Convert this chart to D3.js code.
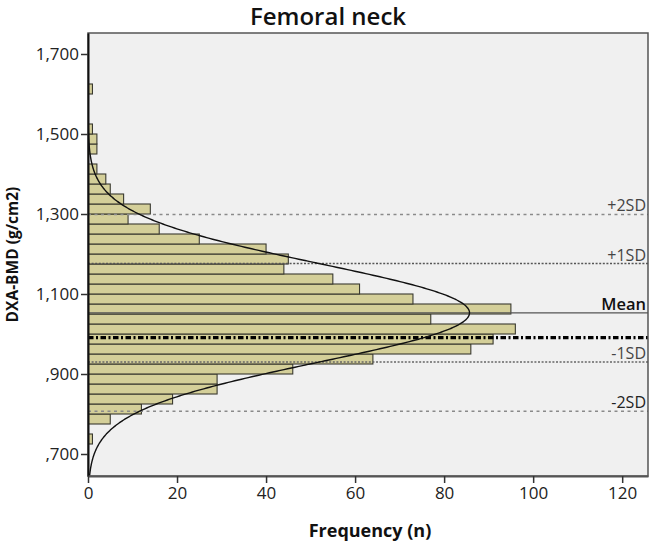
<!DOCTYPE html>
<html>
<head>
<meta charset="utf-8">
<script src="https://cdn.jsdelivr.net/npm/d3@7"></script>
<style>
  html, body { margin: 0; padding: 0; background: #ffffff; }
  svg { display: block; font-family: 'Open Sans', 'Noto Sans', sans-serif; }
</style>
</head>
<body>
<svg id="chart" width="652" height="546"></svg>
<script>
////////// Data //////////
const binWidth = 0.025;
const binLow = [0.725, 0.750, 0.775, 0.800, 0.825, 0.850, 0.875, 0.900, 0.925, 0.950,
                0.975, 1.000, 1.025, 1.050, 1.075, 1.100, 1.125, 1.150, 1.175, 1.200,
                1.225, 1.250, 1.275, 1.300, 1.325, 1.350, 1.375, 1.400, 1.425, 1.450,
                1.475, 1.500, 1.525, 1.550, 1.575, 1.600];
const counts = [1, 0, 5, 12, 19, 29, 29, 46, 64, 86,
                91, 96, 77, 95, 73, 61, 55, 44, 45, 40,
                25, 16, 9, 14, 8, 5, 4, 2, 0, 2,
                2, 1, 0, 0, 0, 1];

const fitMean = 1.053;
const fitSd = 0.123;

const refLabels = ['+2SD', '+1SD', 'Mean', '-1SD', '-2SD'];
const refValues = [1.299, 1.176, 1.053, 0.930, 0.807];
const cutoffValue = 0.991;

const yTickValues = [0.7, 0.9, 1.1, 1.3, 1.5, 1.7];
const yTickLabels = [',700', ',900', '1,100', '1,300', '1,500', '1,700'];
const xTickValues = [0, 20, 40, 60, 80, 100, 120];

const titleText = 'Femoral neck';
const xTitle = 'Frequency (n)';
const yTitle = 'DXA-BMD (g/cm2)';

////////// Layout //////////
const plotLeft = 88, plotRight = 648, plotTop = 33, plotBottom = 476;
const barFill = '#d4cf99';
const barStroke = '#3a3a30';
const plotBg = '#f0f0f0';

const svg = d3.select('#chart');

const x = d3.scaleLinear().domain([0, 125.8]).range([plotLeft, plotRight]);
const y = d3.scaleLinear().domain([0.645, 1.7525]).range([plotBottom, plotTop]);

// plot background
svg.append('rect')
  .attr('x', plotLeft).attr('y', plotTop)
  .attr('width', plotRight - plotLeft).attr('height', plotBottom - plotTop)
  .attr('fill', plotBg);

svg.append('clipPath').attr('id', 'plotClip')
  .append('rect')
  .attr('x', plotLeft).attr('y', plotTop)
  .attr('width', plotRight - plotLeft).attr('height', plotBottom - plotTop);

const plot = svg.append('g').attr('clip-path', 'url(#plotClip)');

// bars
const bins = binLow.map((lo, i) => ({ lo: lo, n: counts[i] })).filter(d => d.n > 0);
plot.selectAll('.bar')
  .data(bins)
  .enter().append('rect')
    .attr('class', 'bar')
    .attr('x', x(0))
    .attr('y', d => y(d.lo + binWidth))
    .attr('width', d => x(d.n) - x(0))
    .attr('height', d => y(d.lo) - y(d.lo + binWidth))
    .attr('fill', barFill)
    .attr('stroke', barStroke)
    .attr('stroke-width', 1.1);

// reference lines
const refDash = ['3,3.5', '2,1.6', null, '2,1.6', '3,3.5'];
const refColor = ['#8a8a8a', '#555555', '#555555', '#666666', '#8a8a8a'];
plot.selectAll('.refLine')
  .data(refValues)
  .enter().append('line')
    .attr('class', 'refLine')
    .attr('x1', plotLeft).attr('x2', plotRight)
    .attr('y1', d => y(d)).attr('y2', d => y(d))
    .attr('stroke', (d, i) => refColor[i])
    .attr('stroke-width', (d, i) => i === 2 ? 1.2 : 1.5)
    .attr('stroke-dasharray', (d, i) => refDash[i]);

// cutoff dash-dot line
plot.append('line')
  .attr('x1', plotLeft).attr('x2', plotRight)
  .attr('y1', y(cutoffValue)).attr('y2', y(cutoffValue))
  .attr('stroke', '#000')
  .attr('stroke-width', 3.2)
  .attr('stroke-dasharray', '5.5,2.5,2,2.5');

// fitted normal curve
const total = d3.sum(counts);
const curveY = d3.range(0.645, 1.76, 0.002);
const normal = v => total * binWidth / (fitSd * Math.sqrt(2 * Math.PI)) * Math.exp(-0.5 * Math.pow((v - fitMean) / fitSd, 2));
plot.append('path')
  .datum(curveY)
  .attr('fill', 'none')
  .attr('stroke', '#111')
  .attr('stroke-width', 1.4)
  .attr('d', d3.line().x(v => x(normal(v))).y(v => y(v)).curve(d3.curveBasis));

// reference labels
svg.selectAll('.refLabel')
  .data(refValues)
  .enter().append('text')
    .attr('class', 'refLabel')
    .attr('x', plotRight - 2)
    .attr('y', d => y(d) - 3)
    .attr('text-anchor', 'end')
    .style('font-size', (d, i) => i === 2 ? '16.5px' : '16px')
    .style('font-weight', (d, i) => i === 2 ? 600 : 400)
    .attr('fill', (d, i) => i === 2 ? '#111' : (i === 4 ? '#222' : '#444'))
    .text((d, i) => refLabels[i]);

// frame
svg.append('rect')
  .attr('x', plotLeft).attr('y', plotTop)
  .attr('width', plotRight - plotLeft).attr('height', plotBottom - plotTop)
  .attr('fill', 'none')
  .attr('stroke', '#555')
  .attr('stroke-width', 1.5);

// axes
const yAxis = d3.axisLeft(y)
  .tickValues(yTickValues)
  .tickFormat((d, i) => yTickLabels[i])
  .tickSize(7).tickSizeOuter(0).tickPadding(2);
const yAxisG = svg.append('g')
  .attr('transform', `translate(${plotLeft}, 0)`)
  .call(yAxis);
yAxisG.select('.domain').attr('stroke', '#111').attr('stroke-width', 2);
yAxisG.selectAll('.tick line').attr('stroke', '#333').attr('stroke-width', 1.5);
yAxisG.selectAll('.tick text').style('font-size', '17px').style('font-family', "'Open Sans', sans-serif").attr('fill', '#222');

const xAxis = d3.axisBottom(x)
  .tickValues(xTickValues)
  .tickSize(7).tickSizeOuter(0).tickPadding(4);
const xAxisG = svg.append('g')
  .attr('transform', `translate(0, ${plotBottom})`)
  .call(xAxis);
xAxisG.select('.domain').attr('stroke', '#555').attr('stroke-width', 2);
xAxisG.selectAll('.tick line').attr('stroke', '#333').attr('stroke-width', 1.5);
xAxisG.selectAll('.tick text').style('font-size', '17px').style('font-family', "'Open Sans', sans-serif").attr('fill', '#222');

// titles
svg.append('text')
  .attr('x', 328)
  .attr('y', 25)
  .attr('text-anchor', 'middle')
  .style('font-size', '24px')
  .style('font-weight', 600)
  .attr('fill', '#111')
  .text(titleText);

svg.append('text')
  .attr('x', 370)
  .attr('y', 537)
  .attr('text-anchor', 'middle')
  .style('font-size', '18px')
  .style('font-weight', 'bold')
  .attr('fill', '#111')
  .text(xTitle);

svg.append('text')
  .attr('transform', `translate(18, ${(plotTop + plotBottom) / 2}) rotate(-90)`)
  .attr('text-anchor', 'middle')
  .style('font-size', '15.5px')
  .style('font-weight', 'bold')
  .attr('fill', '#111')
  .text(yTitle);
</script>
</body>
</html>
